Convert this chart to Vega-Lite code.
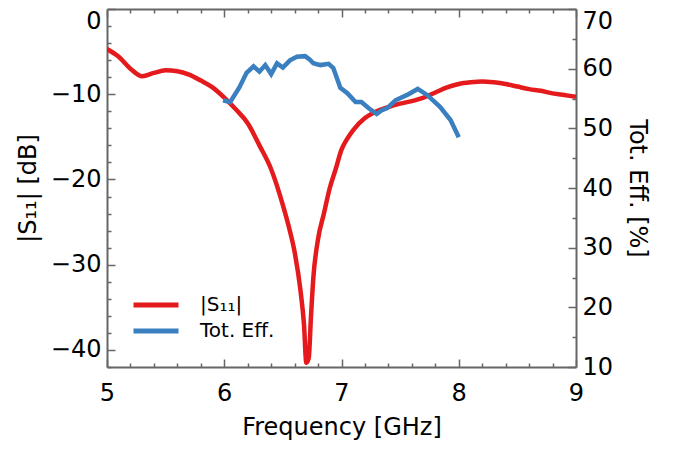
{
  "$schema": "https://vega.github.io/schema/vega-lite/v6.json",
  "width": 469,
  "height": 358,
  "autosize": "none",
  "padding": {"left": 107, "top": 9, "right": 97, "bottom": 83},
  "background": "white",
  "config": {
    "view": {"stroke": null},
    "font": "DejaVu Sans",
    "axis": {
      "labelFont": "DejaVu Sans",
      "titleFont": "DejaVu Sans",
      "labelFontSize": 24,
      "titleFontSize": 24,
      "titleFontWeight": "normal",
      "labelColor": "black",
      "titleColor": "black",
      "domainColor": "#666666",
      "domainWidth": 2,
      "tickColor": "#666666",
      "tickWidth": 1.5,
      "grid": false,
      "labelOverlap": false,
      "labelFlush": false
    }
  },
  "data": {
    "values": [
      {"freq": 5.0, "value": -4.7, "series": "|S₁₁|"},
      {"freq": 5.1, "value": -5.6, "series": "|S₁₁|"},
      {"freq": 5.2, "value": -7.0, "series": "|S₁₁|"},
      {"freq": 5.3, "value": -7.9, "series": "|S₁₁|"},
      {"freq": 5.4, "value": -7.5, "series": "|S₁₁|"},
      {"freq": 5.5, "value": -7.2, "series": "|S₁₁|"},
      {"freq": 5.6, "value": -7.3, "series": "|S₁₁|"},
      {"freq": 5.7, "value": -7.7, "series": "|S₁₁|"},
      {"freq": 5.8, "value": -8.4, "series": "|S₁₁|"},
      {"freq": 5.9, "value": -9.2, "series": "|S₁₁|"},
      {"freq": 6.0, "value": -10.4, "series": "|S₁₁|"},
      {"freq": 6.1, "value": -11.8, "series": "|S₁₁|"},
      {"freq": 6.2, "value": -13.4, "series": "|S₁₁|"},
      {"freq": 6.3, "value": -16.0, "series": "|S₁₁|"},
      {"freq": 6.4, "value": -18.8, "series": "|S₁₁|"},
      {"freq": 6.5, "value": -23.0, "series": "|S₁₁|"},
      {"freq": 6.55, "value": -25.5, "series": "|S₁₁|"},
      {"freq": 6.6, "value": -28.5, "series": "|S₁₁|"},
      {"freq": 6.65, "value": -33.0, "series": "|S₁₁|"},
      {"freq": 6.68, "value": -37.0, "series": "|S₁₁|"},
      {"freq": 6.7, "value": -41.5, "series": "|S₁₁|"},
      {"freq": 6.72, "value": -41.0, "series": "|S₁₁|"},
      {"freq": 6.74, "value": -36.0, "series": "|S₁₁|"},
      {"freq": 6.76, "value": -31.5, "series": "|S₁₁|"},
      {"freq": 6.8, "value": -27.0, "series": "|S₁₁|"},
      {"freq": 6.85, "value": -24.0, "series": "|S₁₁|"},
      {"freq": 6.9, "value": -21.0, "series": "|S₁₁|"},
      {"freq": 6.95, "value": -18.8, "series": "|S₁₁|"},
      {"freq": 7.0, "value": -16.5, "series": "|S₁₁|"},
      {"freq": 7.05, "value": -15.2, "series": "|S₁₁|"},
      {"freq": 7.1, "value": -14.2, "series": "|S₁₁|"},
      {"freq": 7.2, "value": -12.8, "series": "|S₁₁|"},
      {"freq": 7.3, "value": -12.0, "series": "|S₁₁|"},
      {"freq": 7.4, "value": -11.5, "series": "|S₁₁|"},
      {"freq": 7.5, "value": -11.1, "series": "|S₁₁|"},
      {"freq": 7.6, "value": -10.8, "series": "|S₁₁|"},
      {"freq": 7.7, "value": -10.4, "series": "|S₁₁|"},
      {"freq": 7.8, "value": -9.8, "series": "|S₁₁|"},
      {"freq": 7.9, "value": -9.2, "series": "|S₁₁|"},
      {"freq": 8.0, "value": -8.8, "series": "|S₁₁|"},
      {"freq": 8.1, "value": -8.6, "series": "|S₁₁|"},
      {"freq": 8.2, "value": -8.5, "series": "|S₁₁|"},
      {"freq": 8.3, "value": -8.6, "series": "|S₁₁|"},
      {"freq": 8.4, "value": -8.8, "series": "|S₁₁|"},
      {"freq": 8.5, "value": -9.1, "series": "|S₁₁|"},
      {"freq": 8.6, "value": -9.4, "series": "|S₁₁|"},
      {"freq": 8.7, "value": -9.6, "series": "|S₁₁|"},
      {"freq": 8.8, "value": -9.9, "series": "|S₁₁|"},
      {"freq": 8.9, "value": -10.1, "series": "|S₁₁|"},
      {"freq": 9.0, "value": -10.3, "series": "|S₁₁|"},
      {"freq": 5.99, "value": 54.7, "series": "Tot. Eff."},
      {"freq": 6.05, "value": 54.4, "series": "Tot. Eff."},
      {"freq": 6.13, "value": 56.9, "series": "Tot. Eff."},
      {"freq": 6.19, "value": 59.3, "series": "Tot. Eff."},
      {"freq": 6.25, "value": 60.4, "series": "Tot. Eff."},
      {"freq": 6.30, "value": 59.5, "series": "Tot. Eff."},
      {"freq": 6.35, "value": 60.6, "series": "Tot. Eff."},
      {"freq": 6.40, "value": 59.1, "series": "Tot. Eff."},
      {"freq": 6.45, "value": 60.9, "series": "Tot. Eff."},
      {"freq": 6.50, "value": 60.2, "series": "Tot. Eff."},
      {"freq": 6.56, "value": 61.4, "series": "Tot. Eff."},
      {"freq": 6.62, "value": 62.0, "series": "Tot. Eff."},
      {"freq": 6.69, "value": 62.1, "series": "Tot. Eff."},
      {"freq": 6.73, "value": 61.5, "series": "Tot. Eff."},
      {"freq": 6.76, "value": 60.9, "series": "Tot. Eff."},
      {"freq": 6.82, "value": 60.6, "series": "Tot. Eff."},
      {"freq": 6.89, "value": 60.8, "series": "Tot. Eff."},
      {"freq": 6.93, "value": 60.1, "series": "Tot. Eff."},
      {"freq": 6.99, "value": 56.8, "series": "Tot. Eff."},
      {"freq": 7.05, "value": 55.9, "series": "Tot. Eff."},
      {"freq": 7.12, "value": 54.4, "series": "Tot. Eff."},
      {"freq": 7.17, "value": 54.4, "series": "Tot. Eff."},
      {"freq": 7.23, "value": 53.4, "series": "Tot. Eff."},
      {"freq": 7.30, "value": 52.4, "series": "Tot. Eff."},
      {"freq": 7.34, "value": 53.0, "series": "Tot. Eff."},
      {"freq": 7.39, "value": 53.4, "series": "Tot. Eff."},
      {"freq": 7.46, "value": 54.7, "series": "Tot. Eff."},
      {"freq": 7.56, "value": 55.6, "series": "Tot. Eff."},
      {"freq": 7.65, "value": 56.6, "series": "Tot. Eff."},
      {"freq": 7.73, "value": 55.6, "series": "Tot. Eff."},
      {"freq": 7.84, "value": 53.6, "series": "Tot. Eff."},
      {"freq": 7.93, "value": 51.4, "series": "Tot. Eff."},
      {"freq": 8.00, "value": 48.5, "series": "Tot. Eff."}
    ]
  },
  "layer": [
    {
      "transform": [{"filter": "datum.series === '|S₁₁|'"}],
      "mark": {"type": "line", "strokeWidth": 4.5, "clip": true, "interpolate": "monotone"},
      "encoding": {
        "x": {
          "field": "freq", "type": "quantitative",
          "scale": {"domain": [5, 9], "nice": false, "zero": false},
          "axis": {
            "orient": "bottom",
            "title": "Frequency [GHz]",
            "values": [5, 5.2, 5.4, 5.6, 5.8, 6, 6.2, 6.4, 6.6, 6.8, 7, 7.2, 7.4, 7.6, 7.8, 8, 8.2, 8.4, 8.6, 8.8, 9],
            "labelExpr": "abs(datum.value - round(datum.value)) < 0.01 ? '' + round(datum.value) : ''",
            "tickSize": {"condition": {"test": "abs(datum.value - round(datum.value)) < 0.01", "value": -8}, "value": -4},
            "labelPadding": 22,
            "titlePadding": 6
          }
        },
        "y": {
          "field": "value", "type": "quantitative",
          "scale": {"domain": [-42, 0], "nice": false, "zero": false},
          "axis": {
            "orient": "left",
            "title": "|S₁₁| [dB]",
            "values": [0, -2, -4, -6, -8, -10, -12, -14, -16, -18, -20, -22, -24, -26, -28, -30, -32, -34, -36, -38, -40, -42],
            "labelExpr": "datum.value % 10 === 0 ? datum.label : ''",
            "tickSize": {"condition": {"test": "datum.value % 10 === 0", "value": -8}, "value": -4},
            "labelBaseline": {"condition": {"test": "datum.value === 0", "value": "top"}, "value": "middle"},
            "labelPadding": 14,
            "titlePadding": 10
          }
        },
        "color": {
          "field": "series", "type": "nominal",
          "scale": {"domain": ["|S₁₁|", "Tot. Eff."], "range": ["#e41a1c", "#3a7fbf"]},
          "legend": {
            "title": null,
            "orient": "none",
            "legendX": 24,
            "legendY": 286,
            "padding": 0,
            "symbolType": "stroke",
            "symbolSize": 2025,
            "symbolStrokeWidth": 5,
            "clipHeight": 20,
            "labelFont": "DejaVu Sans",
            "labelFontSize": 20,
            "labelColor": "black",
            "labelOffset": 19,
            "rowPadding": 6
          }
        }
      }
    },
    {
      "transform": [{"filter": "datum.series === 'Tot. Eff.'"}],
      "mark": {"type": "line", "strokeWidth": 4.5, "clip": true},
      "encoding": {
        "x": {
          "field": "freq", "type": "quantitative",
          "scale": {"domain": [5, 9], "nice": false, "zero": false},
          "axis": {
            "orient": "top",
            "title": null,
            "labels": false,
            "values": [5, 5.2, 5.4, 5.6, 5.8, 6, 6.2, 6.4, 6.6, 6.8, 7, 7.2, 7.4, 7.6, 7.8, 8, 8.2, 8.4, 8.6, 8.8, 9],
            "tickSize": {"condition": {"test": "abs(datum.value - round(datum.value)) < 0.01", "value": -8}, "value": -4}
          }
        },
        "y": {
          "field": "value", "type": "quantitative",
          "scale": {"domain": [10, 70], "nice": false, "zero": false},
          "axis": {
            "orient": "right",
            "title": "Tot. Eff. [%]",
            "values": [10, 15, 20, 25, 30, 35, 40, 45, 50, 55, 60, 65, 70],
            "labelExpr": "datum.value % 10 === 0 ? datum.label : ''",
            "tickSize": {"condition": {"test": "datum.value % 10 === 0", "value": -8}, "value": -4},
            "labelBaseline": {"condition": {"test": "datum.value === 70", "value": "top"}, "value": "middle"},
            "labelPadding": 14,
            "titlePadding": 12
          }
        },
        "color": {
          "field": "series", "type": "nominal",
          "scale": {"domain": ["|S₁₁|", "Tot. Eff."], "range": ["#e41a1c", "#3a7fbf"]}
        }
      }
    }
  ],
  "resolve": {"scale": {"y": "independent"}, "axis": {"x": "independent"}}
}
